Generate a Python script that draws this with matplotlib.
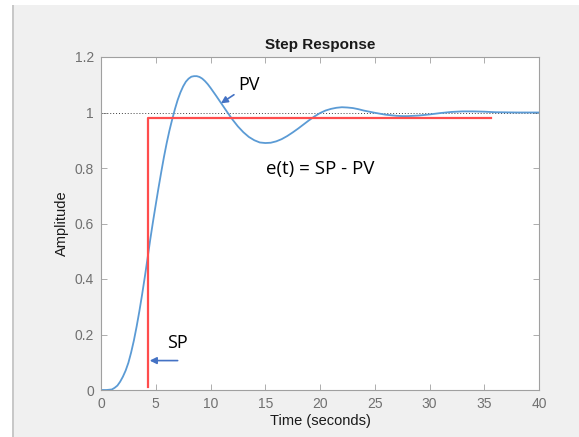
import matplotlib.pyplot as plt
from matplotlib.patches import Rectangle

# step response (PV)
tiempo = [0, 0.5, 1, 1.25, 1.5, 1.75, 2, 2.25, 2.5, 2.75, 3, 3.25, 3.5, 3.75, 4, 4.3,
          4.5, 4.75, 5, 5.25, 5.5, 5.75, 6, 6.25, 6.5, 6.75, 7, 7.25, 7.5, 7.75, 8,
          8.25, 8.5, 8.75, 9, 9.25, 9.5, 9.75, 10, 10.5, 11, 11.5, 12, 12.5, 13,
          13.5, 14, 14.5, 15, 15.5, 16, 16.5, 17, 17.5, 18, 18.5, 19, 19.5, 20,
          20.5, 21, 21.5, 22, 22.5, 23, 23.5, 24, 25, 26, 27, 27.5, 28, 29, 30,
          31, 32, 33, 34, 35, 36, 38, 40]
pv = [0, 0, 0.002, 0.008, 0.016, 0.03, 0.048, 0.07, 0.098, 0.135, 0.178, 0.228, 0.283,
      0.343, 0.407, 0.488, 0.543, 0.607, 0.668, 0.728, 0.785, 0.84, 0.89, 0.935,
      0.975, 1.012, 1.045, 1.072, 1.094, 1.111, 1.122, 1.129, 1.131, 1.131, 1.128,
      1.122, 1.113, 1.102, 1.089, 1.061, 1.032, 1.003, 0.975, 0.95, 0.929, 0.912,
      0.9, 0.892, 0.89, 0.891, 0.896, 0.904, 0.915, 0.928, 0.942, 0.957, 0.972,
      0.986, 0.998, 1.007, 1.013, 1.017, 1.019, 1.018, 1.016, 1.012, 1.007, 0.999,
      0.992, 0.988, 0.987, 0.987, 0.989, 0.993, 0.998, 1.002, 1.004, 1.004, 1.003,
      1.001, 1.0, 1.0]

# setpoint step (SP)
sp_t = [4.3, 4.3, 35.6]
sp_y = [0.01, 0.98, 0.98]

xticks = [0, 5, 10, 15, 20, 25, 30, 35, 40]
yticks = [0, 0.2, 0.4, 0.6, 0.8, 1, 1.2]
ylabels = ['0', '0.2', '0.4', '0.6', '0.8', '1', '1.2']

W, H = 579, 437
fig = plt.figure(figsize=(W / 100, H / 100), dpi=100, facecolor='#f0f0f0')
# white margins of the screenshot
fig.patches.append(Rectangle((0, 1 - 5 / H), 1, 5 / H, transform=fig.transFigure,
                             facecolor='white', edgecolor='none', zorder=0))
fig.patches.append(Rectangle((0, 0), 12 / W, 1, transform=fig.transFigure,
                             facecolor='white', edgecolor='none', zorder=0))
fig.patches.append(Rectangle((12 / W, 0), 1.5 / W, 1 - 5 / H, transform=fig.transFigure,
                             facecolor='#c8c8c8', edgecolor='none', zorder=0))

ax = fig.add_axes([101 / W, (H - 390) / H, (539 - 101) / W, (390 - 57) / H])
ax.set_facecolor('white')

ax.plot([0, 40], [1, 1], color='#404040', linestyle=(0, (1, 2)), linewidth=0.7)
ax.plot(tiempo, pv, color='#5b9bd5', linewidth=1.3)
ax.plot(sp_t, sp_y, color='#ff4d4d', linewidth=1.6)

ax.set_xlim(0, 40)
ax.set_ylim(0, 1.2)
ax.set_xticks(xticks)
ax.set_yticks(yticks)
ax.set_yticklabels(ylabels)
ax.tick_params(direction='in', length=4, width=0.6, color='#a0a0a0',
               labelcolor='#707070', labelsize=10, top=True, right=True, pad=5)
for lado in ax.spines.values():
    lado.set_color('#a0a0a0')
    lado.set_linewidth(0.8)

fuente = 'Liberation Sans'
for lbl in ax.get_xticklabels() + ax.get_yticklabels():
    lbl.set_family(fuente)

ax.set_title('Step Response', fontsize=11, fontweight='bold', family=fuente,
             color='#1a1a1a', pad=6)
ax.set_xlabel('Time (seconds)', fontsize=10.5, family=fuente, color='#1a1a1a', labelpad=2)
ax.set_ylabel('Amplitude', fontsize=10.5, family=fuente, color='#1a1a1a', labelpad=4)

# annotations
azul = '#4472c4'
ax.annotate('PV', xy=(10.95, 1.033), xytext=(12.5, 1.099), fontsize=13,
            family='Open Sans', color='black', va='center', ha='left',
            arrowprops=dict(arrowstyle='-|>', color=azul, lw=1.2, mutation_scale=10,
                            shrinkA=1, shrinkB=0))
ax.annotate('', xy=(4.45, 0.106), xytext=(7.0, 0.106),
            arrowprops=dict(arrowstyle='-|>', color=azul, lw=1.2, mutation_scale=10,
                            shrinkA=0, shrinkB=0))
ax.text(6.0, 0.169, 'SP', fontsize=13, family='Open Sans', va='center', ha='left')
ax.text(15.1, 0.796, 'e(t) = SP - PV', fontsize=13.5, family='Open Sans',
        va='center', ha='left')

fig.savefig('out.png', dpi=100, facecolor=fig.get_facecolor())
